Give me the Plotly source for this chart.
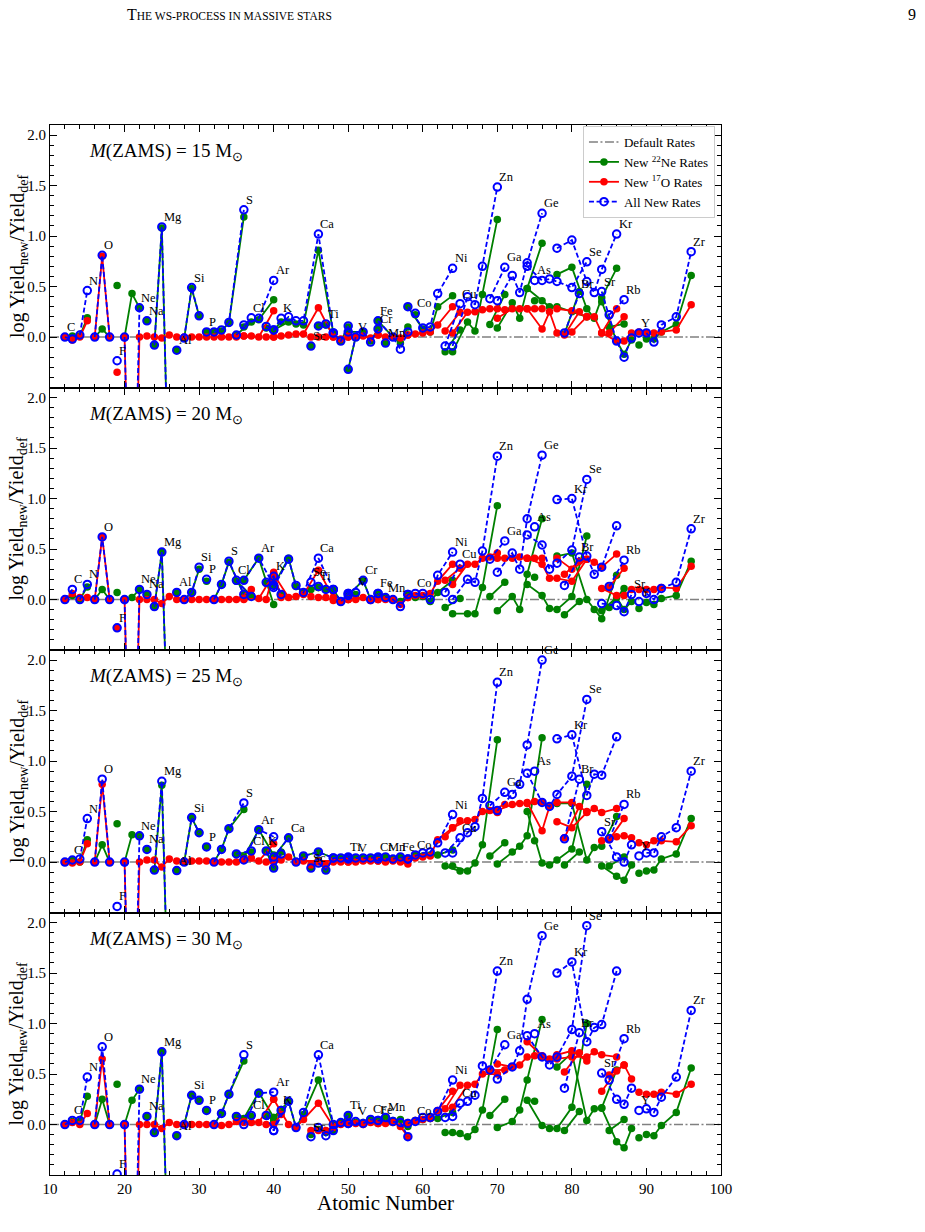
import plotly.graph_objects as go
from plotly.subplots import make_subplots

# ---------------- data ----------------
ELEMENTS = ["C", "N", "O", "F", "Ne", "Na", "Mg", "Al", "Si", "P", "S", "Cl", "Ar", "K", "Ca",
            "Sc", "Ti", "V", "Cr", "Mn", "Fe", "Co", "Ni", "Cu", "Zn", "Ga", "Ge", "As", "Se",
            "Br", "Kr", "Rb", "Sr", "Y", "Zr"]
ISOTOPES = [[12, 13], [14, 15], [16, 17, 18], [19], [20, 21, 22], [23], [24, 25, 26], [27],
            [28, 29, 30], [31], [32, 33, 34, 36], [35, 37], [36, 38, 40], [39, 40, 41],
            [40, 42, 43, 44, 46, 48], [45], [46, 47, 48, 49, 50], [50, 51], [50, 52, 53, 54],
            [55], [54, 56, 57, 58], [59], [58, 60, 61, 62, 64], [63, 65], [64, 66, 67, 68, 70],
            [69, 71], [70, 72, 73, 74, 76], [75], [74, 76, 77, 78, 80, 82], [79, 81],
            [78, 80, 82, 83, 84, 86], [85, 87], [84, 86, 87, 88], [89], [90, 91, 92, 94, 96]]
MASSES = [15, 20, 25, 30]
DEFAULT_X = [10, 100]
DEFAULT_Y = [0, 0]

# ---- 15 Msun ----
NE22_15 = [[0, 0.01], [0.01, 0.19], [0, 0.08, 0], [0.51], [0, 0.43, 0.29], [0.16],
           [-0.08, 1.08, -1.8], [-0.13], [-0.01, 0.48, 0.21], [0.05], [0.05, 0.06, 0.14, 1.19],
           [0.02, 0.15], [0.1, 0.17, 0.37], [0.09, 0.07, 0.15], [0.07, 0.15, 0.13, 0.12, 0.86, 0.04],
           [-0.09], [0.11, 0.12, 0.04, -0.04, 0.1], [-0.32, 0.0], [0.05, 0.05, -0.04, 0.08],
           [-0.06], [0.16, 0.0, -0.06, 0.1], [0.22], [0.3, 0.08, 0.05, 0.3, 0.41], [-0.145, 0.07],
           [-0.145, 0.15, 0.06, 0.42, 1.165], [0.125, 0.42], [0.09, 0.34, 0.185, 0.48, 0.93],
           [0.36], [0.48, 0.36, 0.3, 0.3, 0.25, 0.2], [0.03, 0.45],
           [0.62, 0.69, 0.28, 0.185, 0.39, 0.68], [0.1, 0.13], [0.35, -0.04, -0.17, -0.03],
           [-0.08], [-0.02, -0.02, 0.05, 0.125, 0.61]]
O17_15 = [[0, -0.03], [0, 0.16], [0, 0.80, 0], [-0.35], [0, -3, 0], [0.01], [0, -0.01, 0.02],
          [0], [0, 0, 0], [0], [0, 0, 0, 0.01], [0, 0.01], [0.01, 0, 0.26], [0, 0, 0.01],
          [0, 0.02, 0.03, 0.03, 0.29, 0], [0], [0, 0, 0, -0.02, 0], [0.01, 0], [0, 0.01, -0.01, 0.02],
          [0], [0.02, 0, -0.01, 0.02], [0.03], [0.02, 0.04, 0.05, 0.12, 0.3], [0.06, 0.245],
          [0.04, 0.245, 0.25, 0.27, 0.28], [0.28, 0.27], [0.185, 0.28, 0.28, 0.28, 0.28], [0.28],
          [0.28, 0.08, 0.25, 0.04, 0.05, 0.2], [0.02, 0.25], [0.28, 0.26, 0.2, 0.2, 0.04, 0.28],
          [0.04, 0.2], [0.04, -0.04, -0.04, 0.04], [0.05], [0.04, 0.04, 0.05, 0.07, 0.32]]
ALL_15 = [[0, -0.02], [0.02, 0.46], [0, 0.81, 0], [-0.235], [0, -3, 0.29], [0.16],
          [-0.08, 1.09, -1.8], [-0.13], [-0.01, 0.49, 0.21], [0.05], [0.05, 0.07, 0.145, 1.26],
          [0.02, 0.19], [0.12, 0.185, 0.56], [0.105, 0.07, 0.185], [0.07, 0.2, 0.16, 0.16, 1.02, 0.04],
          [-0.09], [0.11, 0.13, 0.04, -0.04, 0.11], [-0.32, 0.0], [0.05, 0.05, -0.05, 0.08],
          [-0.06], [0.16, 0.0, -0.12, 0.05], [0.235], [0.30, 0.09, 0.1, 0.43, 0.68], [-0.09, 0.33],
          [-0.09, 0.40, 0.32, 0.70, 1.485], [0.38, 0.69], [0.36, 0.61, 0.44, 0.735, 1.225], [0.56],
          [0.70, 0.56, 0.575, 0.55, 0.49, 0.745], [0.04, 0.43], [0.88, 0.96, 0.55, 0.44, 0.67, 1.02],
          [0.22, 0.37], [0.45, -0.04, -0.2, -0.01], [0.04], [0.04, -0.05, 0.12, 0.2, 0.845]]

# ---- 20 Msun ----
NE22_20 = [[0, 0.04], [0, 0.125], [0, 0.1, 0], [0.07], [0, 0.02, 0.1], [0.05], [-0.07, 0.47, -1.8],
           [0.07], [0, 0.07, 0.3], [0.18], [0, 0.15, 0.37, 0.05], [0.18, 0.04], [0.19, 0.41, -0.05],
           [0.16, 0.2, 0.05], [0.14, 0.41, 0.13, 0.07, 0.12, 0.1], [0.1], [0.12, 0.1, 0.1, -0.02, 0.05],
           [0.06, 0.05], [0.04, 0.19, 0, 0.06], [0.02], [0.06, 0.0, -0.02, 0.05], [0.02],
           [0.05, 0.03, -0.02, 0.07, 0.19], [-0.08, 0.01], [-0.14, -0.14, -0.14, 0.12, 0.93],
           [0.03, 0.17], [-0.11, 0.03, -0.1, 0.25, 0.8], [0.22], [0.15, 0.04, -0.09, -0.1, 0.03, 0.63],
           [-0.15, -0.02], [0.43, 0.46, 0, -0.1, -0.19, 0.24], [-0.08, 0.11], [-0.11, 0.02, -0.1, -0.02],
           [-0.09], [-0.03, -0.05, 0.01, 0.04, 0.38]]
O17_20 = [[0, 0.06], [0.02, 0.02], [0, 0.62, 0], [-0.28], [0, -3, 0], [0], [0, -0.04, 0.03], [0],
          [0, 0, 0], [0], [0, 0, 0, 0.01], [0, 0.1], [0, 0.01, 0.25], [0, 0.27, 0.02],
          [0.25, 0.02, 0.03, 0.05, 0.29, 0.02], [0.03], [0.02, 0.02, -0.01, -0.02, 0], [0, 0],
          [0, 0.02, -0.01, 0], [0], [0, 0, -0.05, 0.02], [0.04], [0.02, 0.04, 0.06, 0.18, 0.35],
          [0.19, 0.31], [0.15, 0.35, 0.35, 0.41, 0.46], [0.42, 0.41], [0.41, 0.41, 0.42, 0.41, 0.41],
          [0.41], [0.41, 0.35, 0.21, 0.21, 0.18, 0.4], [0.25, 0.38], [0.41, 0.3, 0.4, 0.37, 0.32, 0.45],
          [0.12, 0.31], [0.11, 0.04, 0.04, 0.1], [0.1], [0.1, 0.1, 0.12, 0.11, 0.33]]
ALL_20 = [[0, 0.1], [0, 0.15], [0, 0.62, 0], [-0.28], [0, -3, 0.1], [0.05], [-0.07, 0.47, -1.8],
          [0.07], [0, 0.07, 0.32], [0.2], [0, 0.15, 0.38, 0.05], [0.19, 0.03], [0.19, 0.41, 0.14],
          [0.17, 0.23, 0.05], [0.12, 0.40, 0.14, 0.07, 0.41, 0.1], [0.17], [0.13, 0.1, 0.1, -0.02, 0.06],
          [0.06, 0.07], [0.04, 0.19, 0, 0.06], [0.02], [0.06, 0.0, -0.07, 0.05], [0.06],
          [0.05, 0.06, 0, 0.24, 0.47], [0.07, 0.35], [0, 0.2, 0.17, 0.48, 1.42], [0.4, 0.58],
          [0.27, 0.46, 0.3, 0.8, 1.43], [0.72], [0.64, 0.54, 0.3, 0.36, 0.49, 1.19], [0.14, 0.42],
          [0.99, 1.0, 0.43, 0.25, 0.32, 0.73], [0.13, 0.39], [-0.04, -0.06, -0.12, 0.05], [-0.02],
          [0.06, 0, 0.11, 0.17, 0.7]]

# ---- 25 Msun ----
NE22_25 = [[0, 0.02], [0, 0.22], [0, 0.17, 0], [0.38], [0, 0.27, 0.26], [0.125], [-0.08, 0.76, -1.8],
           [-0.085], [0, 0.44, 0.29], [0.15], [0, 0.125, 0.33, 0.52], [0.08, 0.1], [0.05, 0.32, 0.07],
           [0.11, -0.06, 0.1], [0.05, 0.24, 0, 0.06, 0.1, 0.04], [-0.06], [0.02, -0.08, 0.04, 0.04, 0.05],
           [0.03, 0.04], [0.04, 0.04, 0.04, 0.05], [0.05], [0.03, 0.03, 0.05, 0.03], [0.07],
           [0.03, 0.06, 0.07, 0.07, 0.12], [-0.04, -0.09], [-0.04, -0.09, -0.01, 0.17, 1.21],
           [0.06, 0.19], [-0.02, 0.1, 0.155, 0.26, 1.23], [0.21], [0.5, -0.01, -0.03, 0.02, 0.13, 0.77],
           [-0.03, 0.1], [0.58, 0.58, 0.02, 0.145, 0.155, 0.45], [-0.04, 0.05],
           [-0.04, -0.14, -0.18, -0.03], [-0.11], [-0.09, -0.08, 0.03, 0.08, 0.43]]
O17_25 = [[0, -0.01], [0, 0.18], [0, 0.77, 0], [-0.7], [0, -3, 0], [0.02], [0.02, -0.05, 0.03],
          [0.01], [0.01, 0.01, 0.01], [0.01], [0, 0, 0, 0.03], [0, 0.04], [0.02, 0.01, 0.18],
          [0, 0, 0.02], [0.02, 0.05, 0, 0.01, 0.01, 0.01], [-0.03], [0, -0.03, 0, 0, 0.01], [0, 0],
          [0, 0.01, 0.01, 0.01], [0], [0.01, 0.01, 0, -0.02], [0.04], [0.02, 0.05, 0.06, 0.22, 0.34],
          [0.25, 0.41], [0.34, 0.41, 0.42, 0.5, 0.49], [0.51, 0.57], [0.51, 0.57, 0.58, 0.58, 0.59],
          [0.6], [0.59, 0.31, 0.55, 0.59, 0.59, 0.5], [0.24, 0.55], [0.4, 0.34, 0.49, 0.53, 0.49, 0.53],
          [0.22, 0.43], [0.21, 0.25, 0.26, 0.24], [0.19], [0.17, 0.21, 0.21, 0.2, 0.36]]
ALL_25 = [[0, 0.02], [0.03, 0.43], [0, 0.82, 0], [-0.44], [0, -3, 0.26], [0.125], [-0.08, 0.8, -1.8],
          [-0.085], [0, 0.44, 0.29], [0.15], [0, 0.125, 0.33, 0.585], [0.08, 0.11], [0.02, 0.32, 0.25],
          [0.11, -0.06, 0.08], [0.05, 0.24, 0, 0.06, 0.1, 0.04], [-0.06], [-0.01, -0.08, 0.04, 0.04, 0.05],
          [0.03, 0.04], [0.04, 0.04, 0.04, 0.05], [0.05], [0.03, 0.03, 0.05, 0.03], [0.07],
          [0.03, 0.09, 0.1, 0.19, 0.47], [0.09, 0.24], [0.09, 0.29, 0.35, 0.63, 1.78], [0.56, 0.69],
          [0.51, 0.67, 0.77, 1.16, 2.0], [0.9], [0.88, 0.59, 0.55, 0.67, 0.85, 1.61], [0.23, 0.82],
          [1.22, 1.26, 0.66, 0.87, 0.86, 1.24], [0.23, 0.57], [0.3, 0.05, 0, 0.17], [0.06],
          [0.09, 0.09, 0.25, 0.34, 0.9]]

# ---- 30 Msun ----
NE22_30 = [[0, 0.03], [0.03, 0.28], [0, 0.25, 0], [0.4], [0, 0.24, 0.35], [0.08], [-0.08, 0.72, -1.8],
           [-0.11], [0, 0.29, 0.24], [0.14], [0, 0.11, 0.3, 0.63], [0.08, 0.08], [0.06, 0.32, 0.07],
           [0.09, 0.04, 0.15], [0.07, 0.23, -0.03, 0.1, 0.44, 0], [-0.1], [-0.05, -0.08, -0.06, 0.02, 0.09],
           [0.02, 0.02], [0.01, 0.02, 0.05, 0.04], [0.07], [0.04, 0.04, 0.05, -0.02], [0.04],
           [0.01, 0.05, 0.06, 0.06, 0.12], [-0.08, -0.09], [-0.08, -0.12, -0.05, 0.145, 0.94],
           [0.09, 0.25], [-0.03, 0.03, 0.145, 0.44, 1.04], [0.23], [0.24, -0.01, -0.04, -0.04, 0.17, 1.0],
           [-0.06, 0.13], [0.57, 0.71, 0.04, 0.155, 0.165, 0.54], [-0.06, 0.05],
           [0.16, -0.17, -0.23, -0.04], [-0.13], [-0.1, -0.11, -0.01, 0.12, 0.56]]
O17_30 = [[0, 0.02], [0, 0.11], [0, 0.65, 0], [-0.7], [0, -3, 0], [0], [0, -0.04, 0.02], [0],
          [0, 0, 0], [0], [0, -0.01, 0, 0.02], [0.03, 0.02], [0.03, 0.02, 0.25], [0, 0, 0.1],
          [0.25, 0, -0.03, 0.05, 0.21, -0.02], [-0.06], [-0.06, -0.06, -0.03, 0.0, 0.02], [0.03, 0.01],
          [0.01, 0, 0.02, 0.01], [0.01], [0.01, 0.02, -0.02, -0.12], [0.04],
          [0.02, 0.05, 0.06, 0.14, 0.33], [0.155, 0.39], [0.17, 0.39, 0.4, 0.5, 0.5], [0.54, 0.54],
          [0.6, 0.57, 0.59, 0.67, 0.67], [0.68], [0.82, 0.68, 0.65, 0.69, 0.73, 0.63], [0.52, 0.71],
          [0.65, 0.67, 0.67, 0.72, 0.69, 0.67], [0.49, 0.59], [0.33, 0.53, 0.59, 0.45], [0.32],
          [0.3, 0.3, 0.32, 0.3, 0.4]]
ALL_30 = [[0, 0.04], [0.04, 0.47], [0, 0.77, 0], [-0.49], [0, -3, 0.35], [0.08], [-0.08, 0.72, -1.8],
          [-0.11], [0, 0.29, 0.24], [0.14], [0, 0.11, 0.3, 0.69], [0.08, 0.09], [0.0, 0.31, 0.32],
          [0.09, -0.06, 0.14], [-0.06, 0.23, -0.03, 0.12, 0.69, 0], [-0.12],
          [-0.03, -0.11, -0.06, 0.02, 0.09], [0.01, 0.03], [0.01, 0.01, 0.05, 0.04], [0.07],
          [0.04, 0.03, 0.02, -0.12], [0.03], [0.01, 0.07, 0.07, 0.13, 0.44], [0.07, 0.21],
          [0.08, 0.23, 0.29, 0.58, 1.52], [0.54, 0.79], [0.45, 0.57, 0.73, 1.24, 1.87], [0.9],
          [0.88, 0.67, 0.59, 0.67, 0.94, 1.97], [0.36, 0.91], [1.5, 1.61, 0.82, 0.96, 0.99, 1.52],
          [0.44, 0.85], [0.51, 0.25, 0.2, 0.36], [0.14], [0.155, 0.12, 0.27, 0.47, 1.13]]

NE22 = [NE22_15, NE22_20, NE22_25, NE22_30]
O17 = [O17_15, O17_20, O17_25, O17_30]
ALLNEW = [ALL_15, ALL_20, ALL_25, ALL_30]

Y_TICKS = [0, 0.5, 1.0, 1.5, 2.0]
Y_TICKTEXT = ["0.0", "0.5", "1.0", "1.5", "2.0"]

# ---------------- figure ----------------
FONT = "Liberation Serif, Times New Roman, serif"


def flatten(vals):
    xs, ys = [], []
    for iso, v in zip(ISOTOPES, vals):
        assert len(iso) == len(v), (iso, v)
        xs += list(iso) + [None]
        ys += list(v) + [None]
    return xs, ys


fig = make_subplots(rows=4, cols=1, shared_xaxes=True, vertical_spacing=0)

series_styles = [
    ("New <sup>22</sup>Ne Rates", NE22,
     dict(mode="lines+markers", line=dict(color="green", width=1.8),
          marker=dict(symbol="circle", size=7.5, color="green"))),
    ("New <sup>17</sup>O Rates", O17,
     dict(mode="lines+markers", line=dict(color="red", width=1.8),
          marker=dict(symbol="circle", size=7.5, color="red"))),
    ("All New Rates", ALLNEW,
     dict(mode="lines+markers", line=dict(color="blue", width=1.8, dash="5px,2.6px"),
          marker=dict(symbol="circle-open", size=7.5, color="blue",
                      line=dict(color="blue", width=2)))),
]

annotations = []
for p, mass in enumerate(MASSES):
    row = p + 1
    sfx = "" if row == 1 else str(row)
    fig.add_trace(go.Scatter(x=DEFAULT_X, y=DEFAULT_Y, mode="lines", name="Default Rates",
                             legendgroup="def", showlegend=(row == 1),
                             line=dict(color="grey", width=1.6, dash="9px,2.5px,2px,2.5px")),
                  row=row, col=1)
    for name, data, style in series_styles:
        xs, ys = flatten(data[p])
        fig.add_trace(go.Scatter(x=xs, y=ys, name=name, legendgroup=name,
                                 showlegend=(row == 1), connectgaps=False, **style),
                      row=row, col=1)
    # element labels at the maximum of the "all new rates" series
    for el, iso, v in zip(ELEMENTS, ISOTOPES, ALLNEW[p]):
        k = max(range(len(v)), key=lambda i: v[i])
        annotations.append(dict(x=iso[k], y=v[k], xref="x" + sfx, yref="y" + sfx,
                                text=el, showarrow=False, xanchor="left", yanchor="bottom",
                                xshift=0, yshift=1, font=dict(family=FONT, size=12.5, color="black")))
    annotations.append(dict(x=15.0, y=1.83, xref="x" + sfx, yref="y" + sfx,
                            text="<i>M</i>(ZAMS) = %d M<sub>⊙</sub>" % mass, showarrow=False,
                            xanchor="left", yanchor="middle",
                            font=dict(family=FONT, size=19, color="black")))
    # y-axis title
    annotations.append(dict(x=-0.048, y=1 - (p + 0.5) * 0.25, xref="paper", yref="paper",
                            text="log Yield<sub>new</sub>/Yield<sub>def</sub>", textangle=-90,
                            showarrow=False, xanchor="center", yanchor="middle",
                            font=dict(family=FONT, size=20, color="black")))
    fig.update_yaxes(row=row, col=1, range=[-0.5, 2.1], tickmode="array", tickvals=Y_TICKS,
                     ticktext=Y_TICKTEXT, ticks="inside", ticklen=7, tickwidth=1, tickcolor="black",
                     minor=dict(tickmode="linear", tick0=0, dtick=0.1, ticks="inside", ticklen=4,
                                tickwidth=1, tickcolor="black"),
                     showline=True, linecolor="black", linewidth=1, mirror="allticks",
                     showgrid=False, zeroline=False,
                     tickfont=dict(family=FONT, size=15, color="black"))
    fig.update_xaxes(row=row, col=1, range=[10, 100], tick0=10, dtick=10, ticks="inside",
                     ticklen=7, tickwidth=1, tickcolor="black",
                     minor=dict(tick0=10, dtick=2, ticks="inside", ticklen=4, tickwidth=1,
                                tickcolor="black"),
                     showline=True, linecolor="black", linewidth=1, mirror="allticks",
                     showgrid=False, zeroline=False, showticklabels=(row == 4),
                     tickfont=dict(family=FONT, size=15, color="black"))

annotations.append(dict(x=0.5, y=-0.0265, xref="paper", yref="paper", text="Atomic Number",
                        showarrow=False, xanchor="center", yanchor="middle",
                        font=dict(family=FONT, size=21, color="black")))
annotations.append(dict(x=0.268, y=1.1048, xref="paper", yref="paper",
                        text="T<span style='font-size:11.5px'>HE WS-PROCESS IN MASSIVE STARS</span>",
                        showarrow=False, xanchor="center", yanchor="middle",
                        font=dict(family=FONT, size=16, color="black")))
annotations.append(dict(x=1.285, y=1.1048, xref="paper", yref="paper", text="9",
                        showarrow=False, xanchor="center", yanchor="middle",
                        font=dict(family=FONT, size=16, color="black")))

fig.update_layout(
    width=925, height=1232,
    margin=dict(l=50, r=204, t=125, b=57, autoexpand=False),
    paper_bgcolor="white", plot_bgcolor="white",
    font=dict(family=FONT, color="black"),
    annotations=annotations,
    legend=dict(x=0.991, y=0.999, xanchor="right", yanchor="top",
                bgcolor="white", bordercolor="#cccccc", borderwidth=1,
                font=dict(family=FONT, size=13, color="black"), tracegroupgap=0),
)

fig.write_html("out.html")
